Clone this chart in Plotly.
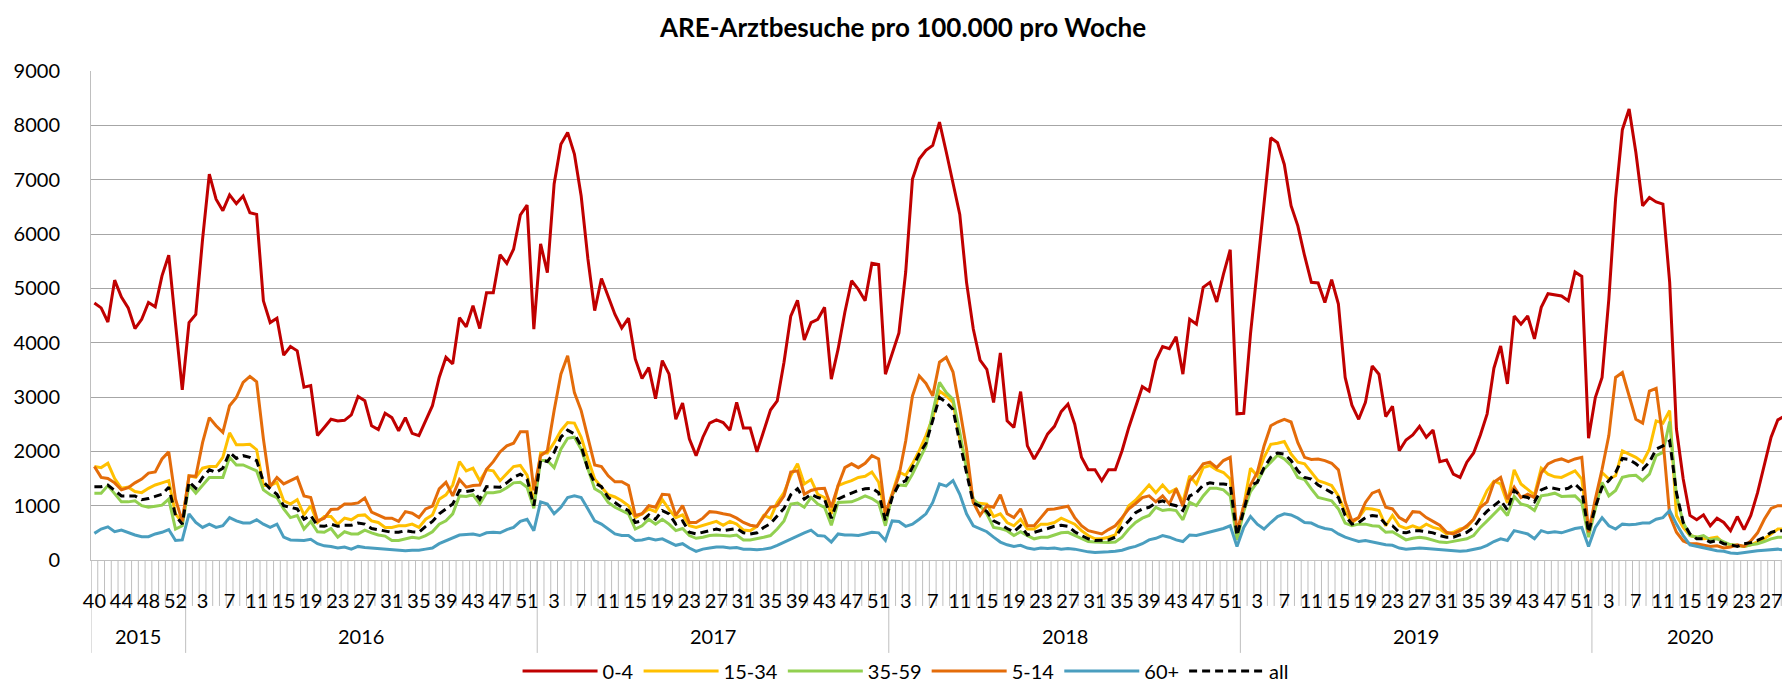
import plotly.graph_objects as go

# ---------------- categories (ISO weeks) ----------------
season_years = [2015, 2016, 2017, 2018, 2019, 2020]
first_week = [40, 1, 1, 1, 1, 1]
last_week = [53, 52, 52, 52, 52, 29]

# ---------------- series values (per 100.000 per week) ----------------
v_0_4 = [
    4730, 4640, 4380, 5150, 4840, 4640, 4260, 4430, 4740, 4660,
    5230, 5610, 4350, 3130, 4370, 4520, 5900, 7100, 6640, 6430,
    6720, 6560, 6700, 6390, 6360, 4770, 4370, 4450, 3770, 3930,
    3850, 3180, 3210, 2290, 2440, 2590, 2560, 2570, 2670, 3010,
    2930, 2470, 2400, 2700, 2620, 2380, 2620, 2330, 2290, 2560,
    2840, 3360, 3730, 3610, 4460, 4290, 4680, 4260, 4920, 4920,
    5620, 5460, 5720, 6350, 6530, 4250, 5820, 5290, 6920, 7650,
    7870, 7470, 6700, 5540, 4590, 5180, 4860, 4520, 4270, 4450,
    3700, 3340, 3540, 2970, 3670, 3420, 2590, 2890, 2230, 1920,
    2260, 2520, 2580, 2530, 2390, 2900, 2430, 2430, 1990, 2380,
    2760, 2930, 3640, 4490, 4780, 4050, 4370, 4430, 4650, 3330,
    3880, 4560, 5140, 4980, 4770, 5460, 5440, 3420, 3820, 4180,
    5300, 7010, 7380, 7540, 7630, 8060, 7510, 6950, 6360, 5110,
    4250, 3680, 3510, 2900, 3810, 2560, 2440, 3100, 2100, 1860,
    2070, 2320, 2460, 2730, 2870, 2500, 1890, 1660, 1660, 1460,
    1660, 1660, 2010, 2440, 2800, 3190, 3110, 3670, 3930, 3890,
    4110, 3420, 4430, 4340, 5020, 5110, 4750, 5260, 5710, 2690,
    2700, 4160, 5350, 6600, 7770, 7680, 7280, 6520, 6150, 5600,
    5110, 5100, 4740, 5160, 4710, 3360, 2850, 2590, 2900, 3570,
    3420, 2640, 2830, 2010, 2210, 2300, 2460, 2260, 2390, 1810,
    1840, 1580, 1520, 1800, 1970, 2300, 2690, 3530, 3940, 3240,
    4490, 4340, 4490, 4070, 4650, 4900, 4880, 4860, 4770, 5300,
    5220, 2240, 2990, 3360, 4800, 6650, 7920, 8300, 7500, 6520,
    6670, 6590, 6550, 5110, 2410, 1490, 820, 740, 830, 630,
    770, 690, 540, 800, 560, 820, 1240, 1740, 2260, 2580,
    2650,
]
v_15_34 = [
    1720, 1700, 1780, 1500, 1320, 1340, 1260, 1240, 1320, 1380,
    1420, 1460, 850, 690, 1550, 1520, 1690, 1720, 1720, 1890,
    2340, 2120, 2120, 2130, 2030, 1370, 1370, 1430, 1090, 1030,
    1110, 830, 1000, 690, 800, 800, 660, 770, 740, 820,
    830, 720, 690, 600, 600, 630, 630, 660, 600, 750,
    830, 1120, 1200, 1380, 1810, 1640, 1690, 1460, 1660, 1640,
    1460, 1600, 1720, 1740, 1560, 1070, 1970, 1970, 2160, 2380,
    2530, 2520, 2260, 1860, 1490, 1340, 1200, 1160, 1090, 1000,
    780, 850, 940, 890, 1110, 930, 780, 830, 630, 600,
    640, 680, 710, 640, 710, 660, 550, 540, 620, 820,
    770, 1060, 1240, 1550, 1770, 1400, 1480, 1210, 1150, 850,
    1370, 1420, 1460, 1520, 1540, 1620, 1430, 830, 1240, 1620,
    1560, 1770, 2010, 2290, 2620, 3110, 3020, 2900, 2230, 1800,
    1060, 1050, 1030, 800, 850, 690, 630, 750, 570, 570,
    660, 660, 690, 770, 720, 660, 540, 450, 390, 390,
    420, 460, 750, 1000, 1100, 1240, 1380, 1240, 1380, 1240,
    1310, 1060, 1550, 1400, 1700, 1740, 1660, 1610, 1490, 450,
    1000, 1690, 1550, 1890, 2130, 2150, 2180, 1950, 1800, 1770,
    1610, 1460, 1420, 1370, 1180, 890, 690, 780, 950, 940,
    910, 630, 820, 630, 580, 630, 580, 660, 600, 570,
    480, 510, 570, 600, 750, 1000, 1280, 1450, 1400, 1050,
    1660, 1400, 1300, 1200, 1690, 1580, 1530, 1520, 1580, 1640,
    1490, 510, 1060, 1610, 1490, 1550, 2010, 1950, 1890, 1800,
    2040, 2560, 2520, 2750, 820, 600, 450, 420, 390, 400,
    420, 300, 280, 260, 250, 280, 330, 390, 480, 570,
    570,
]
v_35_59 = [
    1230, 1230, 1370, 1210, 1070, 1070, 1090, 1000, 970, 990,
    1010, 1120, 570, 630, 1380, 1230, 1370, 1520, 1520, 1520,
    1890, 1750, 1750, 1690, 1640, 1290, 1200, 1150, 940, 780,
    820, 570, 710, 520, 510, 580, 420, 520, 480, 480,
    550, 500, 460, 440, 360, 360, 390, 420, 400, 450,
    520, 660, 720, 850, 1180, 1170, 1200, 1030, 1240, 1240,
    1260, 1330, 1420, 1430, 1340, 950, 1830, 1830, 1700, 2040,
    2240, 2260, 2040, 1670, 1310, 1240, 1060, 970, 910, 850,
    570, 630, 750, 660, 750, 660, 540, 580, 450, 400,
    420, 450, 460, 450, 440, 460, 370, 370, 390, 420,
    450, 570, 720, 1030, 1050, 970, 1150, 1030, 970, 640,
    1060, 1070, 1070, 1120, 1180, 1130, 1050, 630, 1200, 1380,
    1370, 1580, 1830, 2100, 2720, 3270, 3080, 2960, 2350, 1670,
    1120, 1000, 850, 600, 580, 540, 450, 520, 450, 390,
    420, 420, 460, 500, 510, 450, 400, 340, 330, 320,
    320, 330, 420, 570, 690, 770, 820, 970, 910, 930,
    910, 740, 1060, 1000, 1180, 1320, 1320, 1290, 1180, 370,
    890, 1260, 1430, 1670, 1800, 1930, 1860, 1740, 1520, 1480,
    1310, 1150, 1120, 1090, 940, 680, 630, 660, 660, 630,
    620, 510, 520, 450, 370, 400, 420, 400, 370, 330,
    320, 340, 370, 390, 450, 600, 720, 850, 970, 820,
    1170, 1030, 1000, 910, 1180, 1200, 1230, 1170, 1170, 1180,
    1060, 420, 940, 1430, 1180, 1280, 1520, 1550, 1560, 1460,
    1580, 1920, 1980, 2550, 1180, 690, 450, 420, 450, 370,
    390, 330, 280, 270, 250, 280, 300, 340, 390, 420,
    420,
]
v_5_14 = [
    1720, 1520, 1500, 1420, 1290, 1330, 1420, 1490, 1600, 1620,
    1860, 1990, 1120, 710, 1550, 1540, 2160, 2620, 2470, 2350,
    2840, 2990, 3270, 3380, 3280, 2230, 1350, 1520, 1400, 1460,
    1520, 1180, 1150, 720, 770, 930, 940, 1030, 1030, 1050,
    1140, 880, 820, 770, 770, 710, 890, 860, 780, 940,
    990, 1310, 1430, 1180, 1480, 1340, 1370, 1380, 1670, 1810,
    1990, 2100, 2150, 2360, 2360, 1280, 1920, 2010, 2750, 3420,
    3760, 3080, 2750, 2230, 1750, 1720, 1550, 1440, 1440, 1370,
    820, 850, 1000, 970, 1210, 1200, 820, 1000, 690, 690,
    770, 890, 880, 850, 830, 770, 690, 640, 620, 800,
    970, 1000, 1180, 1620, 1640, 1210, 1280, 1310, 1320, 970,
    1370, 1700, 1770, 1700, 1780, 1920, 1860, 850, 1200, 1550,
    2190, 3020, 3390, 3250, 3020, 3640, 3730, 3460, 2780, 2040,
    1060, 820, 1000, 970, 1200, 850, 780, 940, 630, 630,
    780, 930, 940, 960, 990, 780, 630, 540, 510, 480,
    560, 630, 780, 940, 1040, 1150, 1180, 1070, 1180, 1030,
    1310, 990, 1460, 1600, 1770, 1800, 1700, 1830, 1890, 510,
    1000, 1380, 1610, 2100, 2470, 2540, 2590, 2540, 2160, 1890,
    1850, 1860, 1830, 1780, 1660, 1070, 720, 780, 1060, 1230,
    1280, 970, 940, 780, 710, 890, 880, 780, 710, 640,
    510, 480, 540, 630, 750, 970, 1070, 1430, 1520, 1120,
    1340, 1150, 1210, 1150, 1600, 1770, 1830, 1860, 1810, 1860,
    1890, 510, 1120, 1670, 2290, 3360, 3450, 3020, 2590, 2520,
    3110, 3160, 2230, 820, 510, 350, 300, 300, 280, 250,
    260, 220, 240, 280, 250, 350, 500, 750, 950, 1000,
    1000,
]
v_60plus = [
    490, 570, 610, 520, 550, 500, 460, 430, 430, 480,
    510, 560, 360, 370, 850, 690, 600, 660, 600, 630,
    780, 720, 680, 680, 740, 660, 600, 660, 420, 370,
    360, 360, 380, 300, 260, 250, 220, 240, 200, 250,
    230, 220, 210, 190, 180, 170, 170, 180, 180, 200,
    220, 300, 350, 400, 460, 470, 480, 450, 500, 510,
    500, 560, 600, 710, 750, 540, 1070, 1030, 850, 970,
    1150, 1180, 1150, 940, 720, 660, 570, 480, 450, 450,
    360, 370, 400, 370, 390, 330, 270, 300, 220, 160,
    200, 220, 240, 240, 220, 230, 200, 200, 190, 200,
    220, 270, 330, 390, 450, 500, 550, 450, 440, 330,
    480, 460, 460, 450, 480, 510, 500, 360, 720, 710,
    620, 660, 750, 850, 1060, 1400, 1360, 1460, 1210, 850,
    630, 570, 520, 420, 330, 280, 250, 270, 220, 200,
    220, 210, 220, 200, 210, 200, 170, 150, 140, 140,
    150, 160, 180, 220, 250, 300, 370, 400, 450, 420,
    370, 340, 460, 450, 480, 520, 540, 580, 630, 250,
    600, 800, 660, 570, 690, 800, 850, 830, 770, 690,
    680, 620, 580, 560, 480, 420, 380, 340, 360, 330,
    300, 280, 270, 220, 200, 210, 220, 210, 200, 180,
    170, 170, 160, 170, 190, 220, 270, 340, 390, 360,
    540, 510, 480, 390, 540, 500, 520, 500, 540, 580,
    600, 250, 600, 780, 630, 570, 660, 650, 660, 680,
    680, 750, 780, 910, 660, 450, 280, 250, 220, 200,
    170, 160, 130, 120, 140, 150, 170, 180, 190, 200,
    180,
]
v_all = [
    1350, 1350, 1380, 1280, 1180, 1180, 1180, 1110, 1130, 1170,
    1210, 1340, 820, 660, 1440, 1320, 1520, 1660, 1610, 1690,
    1980, 1870, 1920, 1890, 1830, 1440, 1310, 1210, 1000, 970,
    940, 750, 820, 630, 620, 660, 620, 640, 640, 680,
    660, 580, 560, 530, 510, 510, 540, 520, 510, 620,
    710, 850, 940, 1030, 1280, 1260, 1280, 1120, 1350, 1350,
    1340, 1420, 1520, 1580, 1490, 1000, 1840, 1810, 1980, 2260,
    2390, 2320, 2100, 1670, 1420, 1350, 1150, 1060, 970, 910,
    690, 720, 830, 750, 910, 850, 660, 720, 510, 480,
    510, 540, 570, 540, 560, 580, 500, 480, 500, 600,
    670, 800, 950, 1200, 1310, 1120, 1210, 1150, 1120, 770,
    1120, 1180, 1230, 1280, 1310, 1320, 1240, 720, 1150, 1400,
    1460, 1700, 1950, 2150, 2590, 2990, 2900, 2770, 2160, 1610,
    1050, 990, 890, 720, 660, 580, 520, 630, 460, 510,
    540, 580, 620, 640, 620, 520, 450, 390, 360, 360,
    370, 420, 600, 720, 870, 940, 970, 1050, 1090, 1030,
    1000, 910, 1180, 1240, 1380, 1420, 1400, 1400, 1380, 450,
    910, 1370, 1430, 1700, 1890, 1970, 1950, 1830, 1640, 1520,
    1490, 1380, 1310, 1240, 1150, 820, 660, 690, 780, 820,
    800, 660, 630, 510, 500, 540, 540, 520, 500, 450,
    420, 420, 460, 510, 600, 770, 900, 1000, 1100, 920,
    1280, 1180, 1150, 1070, 1290, 1340, 1320, 1290, 1320, 1400,
    1280, 510, 970, 1340, 1460, 1610, 1870, 1850, 1770, 1670,
    1800, 2040, 2100, 2190, 1240, 690, 480, 390, 390, 330,
    360, 300, 280, 250, 300, 320, 360, 420, 510, 540,
    540,
]

series_names = ["0-4", "15-34", "35-59", "5-14", "60+", "all"]
series_values = [v_0_4, v_15_34, v_35_59, v_5_14, v_60plus, v_all]
series_colors = ["#C00000", "#FFC000", "#92D050", "#E46C0A", "#4A9EBF", "#000000"]

# ---------------- build category axis ----------------
cats, weeks, years = [], [], []
for y, a, b in zip(season_years, first_week, last_week):
    for w in range(a, b + 1):
        cats.append(f"{y}-KW{w:02d}")
        weeks.append(w)
        years.append(y)
N = len(cats)
for vals in series_values:
    assert len(vals) == N, (len(vals), N)

FONT = "Lato, 'Open Sans', sans-serif"
GRID = "#a6a6a6"
AXIS = "#bfbfbf"

fig = go.Figure()
for name, vals, col in zip(series_names, series_values, series_colors):
    line = dict(color=col, width=3)
    if name == "all":
        line["dash"] = "8px,5px"
    fig.add_trace(go.Scatter(x=cats, y=vals, mode="lines", name=name, line=line,
                             hoverinfo="x+y+name"))

# axis decorations: category separators and year dividers
shapes = []
for k in range(N + 1):
    shapes.append(dict(type="line", xref="x", yref="paper", x0=k - 0.5, x1=k - 0.5,
                       y0=0, y1=-0.094, line=dict(color=AXIS, width=1), layer="below"))
annotations = []
start = 0
for idx in range(1, N + 1):
    if idx == N or years[idx] != years[idx - 1]:
        shapes.append(dict(type="line", xref="x", yref="paper", x0=start - 0.5, x1=start - 0.5,
                           y0=0, y1=-0.19, line=dict(color=AXIS, width=1), layer="below"))
        annotations.append(dict(x=(start - 0.5 + idx - 0.5) / 2, y=-0.155, xref="x", yref="paper",
                                text=str(years[start]), showarrow=False,
                                font=dict(family=FONT, size=20, color="#000"),
                                xanchor="center", yanchor="middle"))
        start = idx

fig.update_layout(
    width=1790, height=686,
    margin=dict(l=83, r=10, t=63, b=134, autoexpand=False),
    paper_bgcolor="white", plot_bgcolor="white",
    font=dict(family=FONT, size=20, color="#000"),
    title=dict(text="<b>ARE-Arztbesuche pro 100.000 pro Woche</b>", x=0.5, xanchor="center",
               y=1 - 20 / 686, yref="container", yanchor="middle",
               font=dict(family=FONT, size=26, color="#000")),
    showlegend=True,
    legend=dict(orientation="h", x=0.48, xanchor="center",
                yref="container", y=1 - 663 / 686, yanchor="middle",
                font=dict(family=FONT, size=20, color="#000"), bgcolor="rgba(0,0,0,0)",
                itemwidth=75),
    shapes=shapes,
    annotations=annotations,
    xaxis=dict(type="category", range=[-0.5, N - 0.5], tickmode="array",
               tickvals=cats[::4], ticktext=[str(w) for w in weeks[::4]],
               ticks="", showgrid=False, showline=True, linecolor=AXIS, linewidth=1,
               tickfont=dict(family=FONT, size=20, color="#000"), tickangle=0,
               ticklabelstandoff=23, zeroline=False, automargin=False),
    yaxis=dict(range=[0, 9000], dtick=1000, tick0=0, showgrid=True, gridcolor=GRID, gridwidth=1,
               zeroline=False, showline=True, linecolor=AXIS, linewidth=1, ticks="",
               tickfont=dict(family=FONT, size=20, color="#000"), ticklabelstandoff=26,
               automargin=False),
)

fig.write_html("out.html")
